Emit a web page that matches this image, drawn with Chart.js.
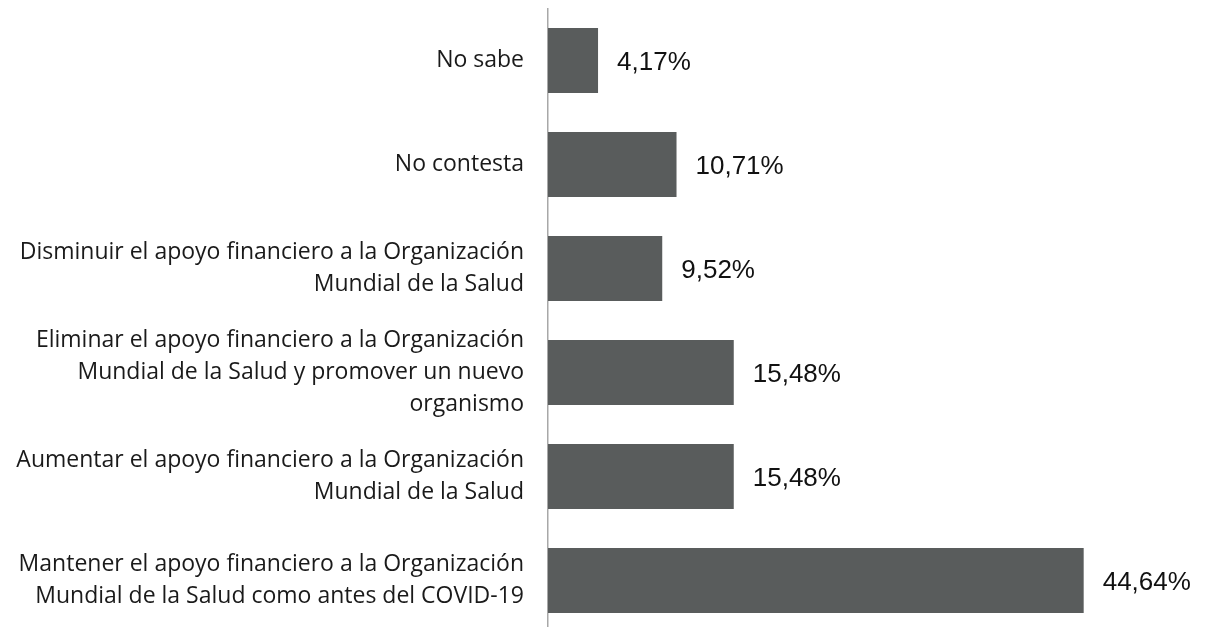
<!DOCTYPE html>
<html>
<head>
<meta charset="utf-8">
<script src="https://cdn.jsdelivr.net/npm/chart.js@4.4.1/dist/chart.umd.min.js"></script>
<style>
  html, body { margin: 0; padding: 0; background: #ffffff; overflow: hidden; }
  #wrap { position: relative; width: 1205px; height: 640px; }
</style>
</head>
<body>
<div id="wrap"><canvas id="c"></canvas></div>
<script>
const categories = [
  ["No sabe"],
  ["No contesta"],
  ["Disminuir el apoyo financiero a la Organización", "Mundial de la Salud"],
  ["Eliminar el apoyo financiero a la Organización", "Mundial de la Salud y promover un nuevo", "organismo"],
  ["Aumentar el apoyo financiero a la Organización", "Mundial de la Salud"],
  ["Mantener el apoyo financiero a la Organización", "Mundial de la Salud como antes del COVID-19"]
];
const values = [4.17, 10.71, 9.52, 15.48, 15.48, 44.64];
const valueLabels = ["4,17%", "10,71%", "9,52%", "15,48%", "15,48%", "44,64%"];

const valueLabelPlugin = {
  id: 'valueLabels',
  afterDatasetsDraw(chart) {
    const ctx = chart.ctx;
    const meta = chart.getDatasetMeta(0);
    ctx.save();
    ctx.font = '26px "Liberation Sans", Arial, sans-serif';
    ctx.fillStyle = '#111111';
    ctx.textAlign = 'left';
    ctx.textBaseline = 'middle';
    meta.data.forEach((bar, i) => {
      ctx.fillText(valueLabels[i], bar.x + 19, bar.y + 2);
    });
    ctx.restore();
  }
};

new Chart(document.getElementById('c'), {
  type: 'bar',
  data: {
    labels: categories,
    datasets: [{
      data: values,
      backgroundColor: '#595c5c',
      borderWidth: 0,
      categoryPercentage: 1,
      barPercentage: 0.625
    }]
  },
  options: {
    indexAxis: 'y',
    responsive: true,
    maintainAspectRatio: false,
    animation: false,
    layout: { padding: { top: 8.5, bottom: 7.5, right: 57, left: 0 } },
    plugins: { legend: { display: false }, tooltip: { enabled: false } },
    scales: {
      x: { display: false, min: 0, max: 50 },
      y: {
        afterFit(scale) { scale.width = 548; scale.paddingTop = 0; scale.paddingBottom = 0; },
        grid: { display: false, drawTicks: false },
        border: { display: true, color: '#a8a8a8', width: 1.5 },
        ticks: {
          padding: 24,
          color: '#1a1a1a',
          font: { family: '"Open Sans", sans-serif', size: 23, lineHeight: 1.39 }
        }
      }
    }
  },
  plugins: [valueLabelPlugin]
});
</script>
</body>
</html>
